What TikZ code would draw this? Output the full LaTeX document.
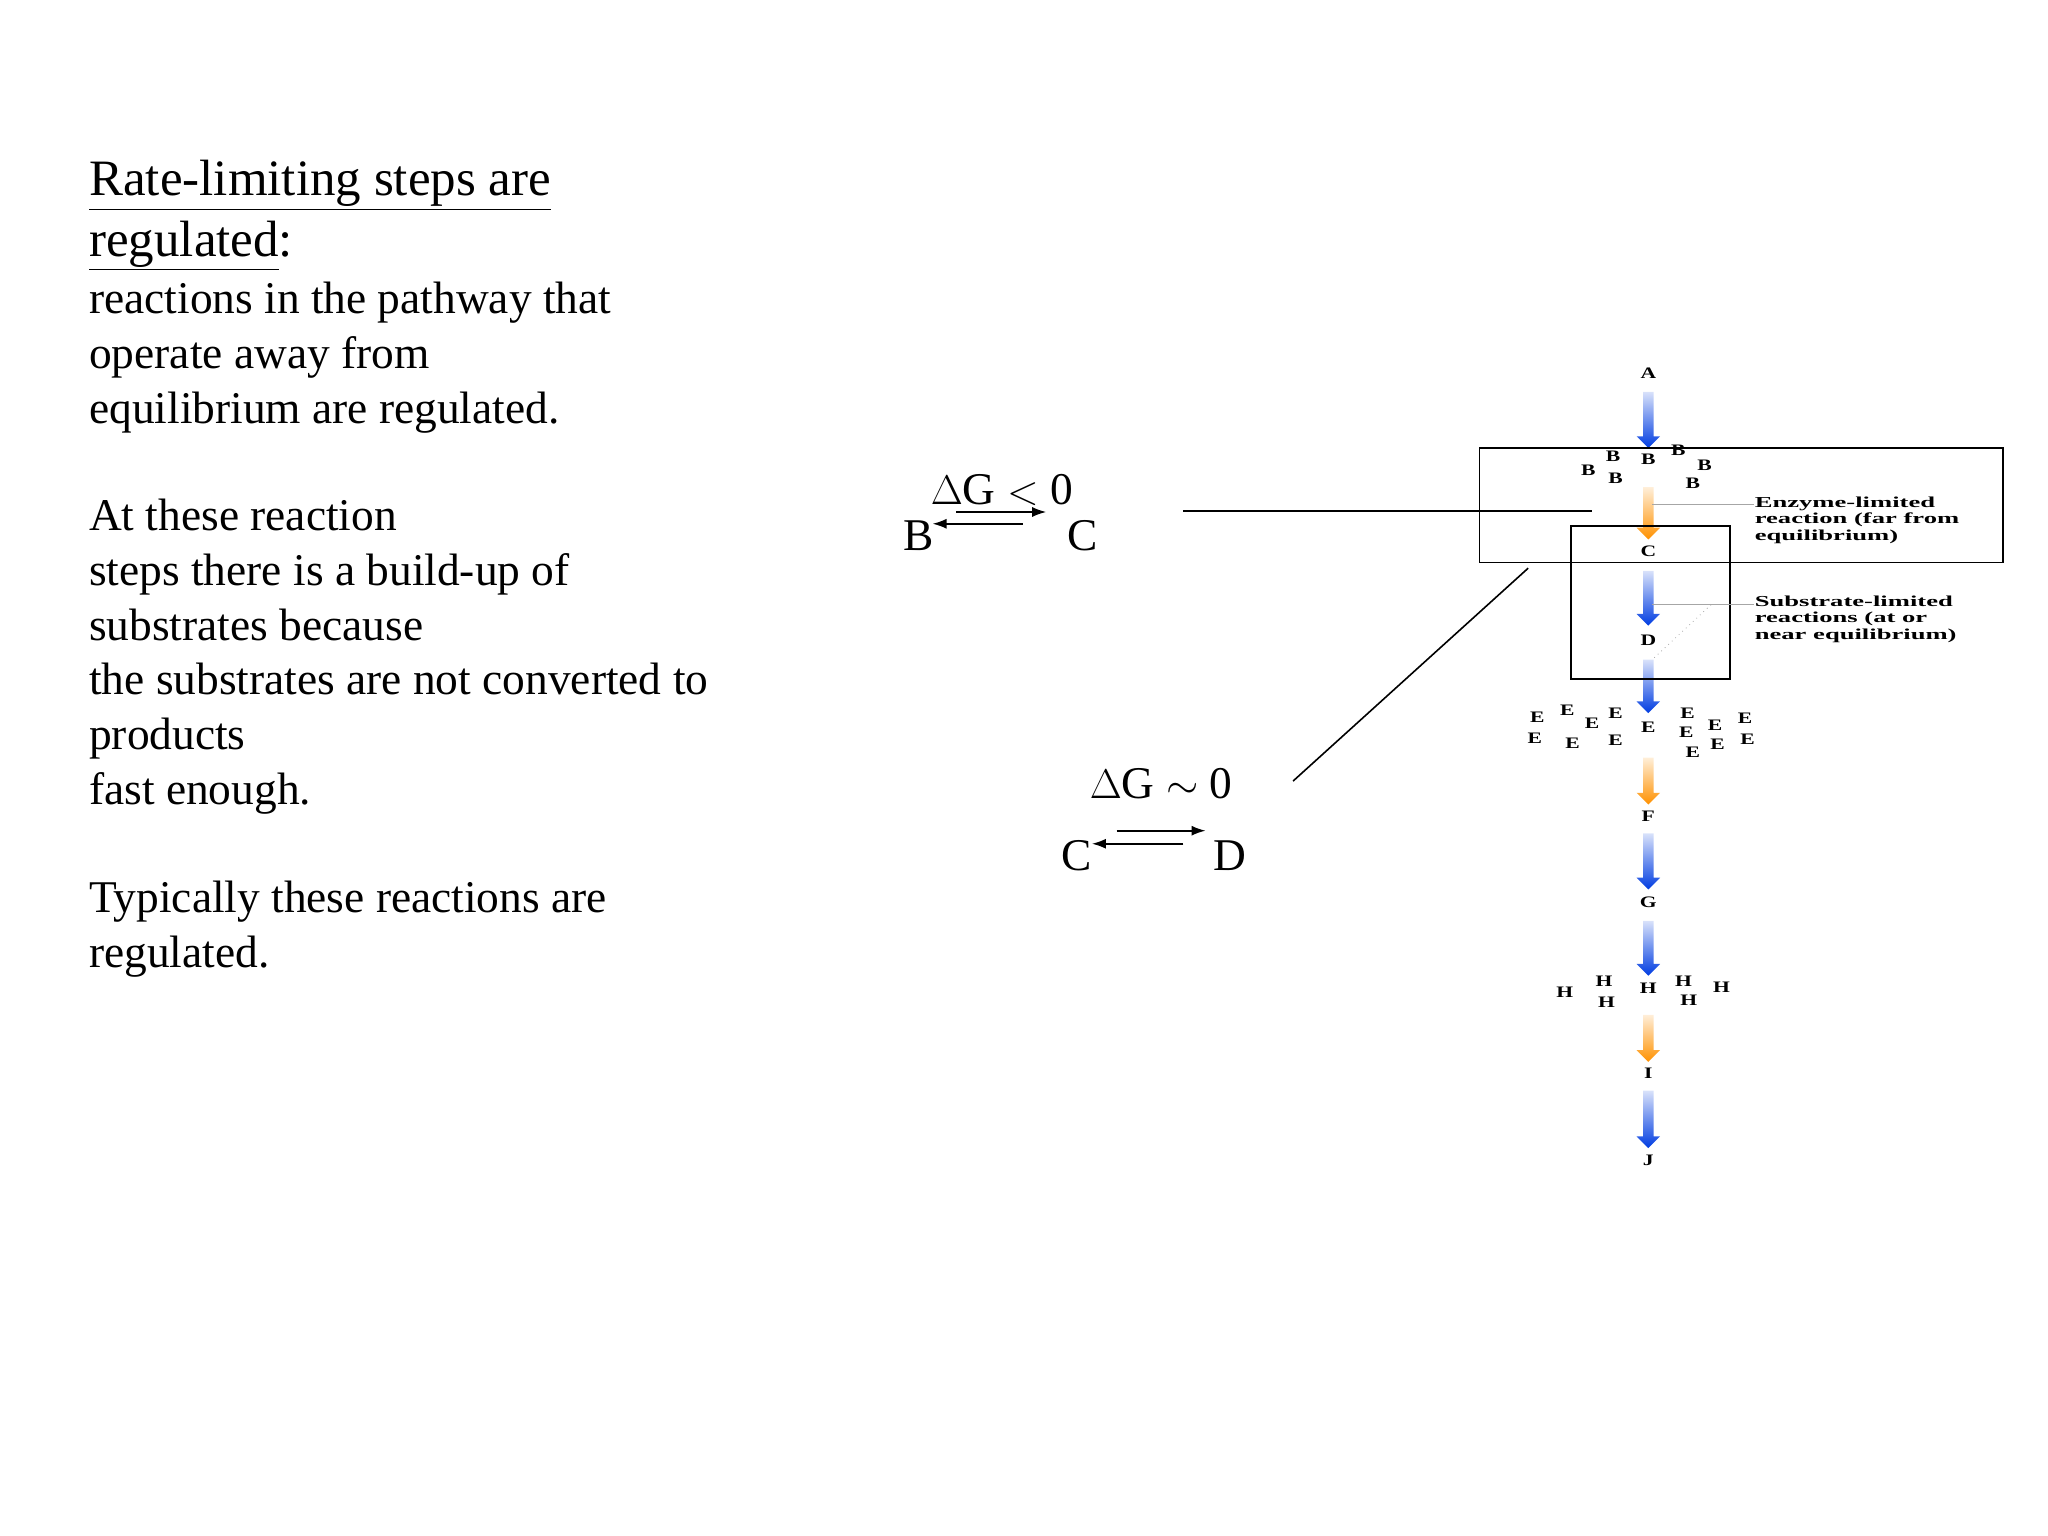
\documentclass[tikz,border=0pt]{standalone}
\usepackage{fontspec}
\setmainfont{Liberation Serif}
\usetikzlibrary{arrows.meta}
\begin{document}
\begin{tikzpicture}[x=0.653pt,y=-0.653pt,
  body/.style={anchor=base west,inner sep=0pt,font=\fontsize{22.7}{26}\selectfont},
  ttl/.style={anchor=base west,inner sep=0pt,font=\fontsize{25.5}{28}\selectfont},
  eq/.style={inner sep=0pt,font=\fontsize{22.7}{26}\selectfont},
  met/.style={inner sep=0pt,xscale=1.35,font=\fontsize{8}{9}\selectfont\bfseries},
  note/.style={anchor=north west,inner sep=0pt,align=left,xscale=1.75,font=\fontsize{7.6}{8.2}\selectfont\bfseries},
  box/.style={draw,line width=0.9pt},
  eqa/.style={-{Latex[length=7pt,width=5pt]},line width=0.8pt},
  lead/.style={draw=gray!70,line width=0.4pt}]
\useasboundingbox (0,0) rectangle (1568,1176);
% left text
\node[ttl] (t1) at (68,150) {\underline{Rate-limiting steps are}};
\node[ttl] (t2) at (68,196) {\underline{regulated}:};
\node[body] (t3) at (68,240) {reactions in the pathway that};
\node[body] (t4) at (68,282) {operate away from};
\node[body] (t5) at (68,324) {equilibrium are regulated.};
\node[body] (t6) at (68,406) {At these reaction};
\node[body] (t7) at (68,448) {steps there is a build-up of};
\node[body] (t8) at (68,490) {substrates because};
\node[body] (t9) at (68,532) {the substrates are not converted to};
\node[body] (t10) at (68,574) {products};
\node[body] (t11) at (68,616) {fast enough.};
\node[body] (t12) at (68,699) {Typically these reactions are};
\node[body] (t13) at (68,741) {regulated.};
% equations
\node[eq] (dg1) at (767,375) {$\Delta$G $<$ 0};
\node[eq] (eb) at (703,410) {B};
\node[eq] (ec) at (829,410) {C};
\coordinate (u1a) at (732,392); \coordinate (u1b) at (801,392);
\coordinate (l1a) at (783,401); \coordinate (l1b) at (714,401);
\draw[eqa] (u1a) -- (u1b);
\draw[eqa] (l1a) -- (l1b);
\node[eq] (dg2) at (889,600) {$\Delta$G $\sim$ 0};
\node[eq] (ec2) at (824,655) {C};
\node[eq] (ed2) at (942,655) {D};
\coordinate (u2a) at (855,636); \coordinate (u2b) at (923,636);
\coordinate (l2a) at (906,646); \coordinate (l2b) at (836,646);
\draw[eqa] (u2a) -- (u2b);
\draw[eqa] (l2a) -- (l2b);
% pathway
\newcommand\garr[3]{\shade[top color=#3!15,bottom color=#3]
  (1258,#1)--(1266,#1)--(1266,#2-9)--(1271,#2-9)--(1262,#2)--(1253,#2-9)--(1258,#2-9)--cycle;}
\definecolor{pblue}{RGB}{0,60,225}
\definecolor{porange}{RGB}{255,145,0}
\garr{300}{343}{pblue}
\garr{373}{413}{porange}
\garr{437}{479}{pblue}
\garr{505}{546}{pblue}
\garr{580}{616}{porange}
\garr{638}{681}{pblue}
\garr{705}{747}{pblue}
\garr{777}{813}{porange}
\garr{835}{879}{pblue}
\node[met] (A) at (1262,286) {A};
\node[met] (B) at (1262,352) {B};
\node[met] (C) at (1262,422) {C};
\node[met] (D) at (1262,490) {D};
\node[met] (E) at (1262,557) {E};
\node[met] (F) at (1262,625) {F};
\node[met] (G) at (1262,691) {G};
\node[met] (H) at (1262,757) {H};
\node[met] (I) at (1262,822) {I};
\node[met] (J) at (1262,888) {J};
\foreach \p in {(1216,360),(1235,349),(1237,366),(1285,345),(1305,356),(1296,370)}
  \node[met] at \p {B};
\foreach \p in {(1177,549),(1200,544),(1219,554),(1237,546),(1292,546),(1291,561),(1313,555),(1336,550),(1175,565),(1204,569),(1237,567),(1296,576),(1315,570),(1338,566)}
  \node[met] at \p {E};
\foreach \p in {(1198,760),(1228,751),(1230,767),(1289,751),(1293,766),(1318,756)}
  \node[met] at \p {H};
% boxes
\node[box,minimum width=401*0.653pt,minimum height=88*0.653pt,anchor=north west,inner sep=0pt] (big) at (1132,342) {};
\node[box,minimum width=122*0.653pt,minimum height=117*0.653pt,anchor=north west,inner sep=0pt] (small) at (1202,402) {};
\coordinate (h1) at (906,391); \coordinate (h2) at (1219,391);
\draw[line width=0.8pt] (h1) -- (h2);
\coordinate (d1) at (990,598); \coordinate (d2) at (1170,435);
\draw[line width=0.8pt] (d1) -- (d2);
% notes
\node[note] (n1) at (1343,380) {Enzyme-limited\\reaction (far from\\equilibrium)};
\node[note] (n2) at (1343,456) {Substrate-limited\\reactions (at or\\near equilibrium)};
\coordinate (g1) at (1265,386);
\coordinate (g2) at (1265,463);
\coordinate (g3) at (1310,463); \coordinate (g4) at (1265,505);
\draw[lead] (g1) -- (n1.west|-g1);
\draw[lead] (g2) -- (n2.west|-g2);
\draw[lead,dotted] (g3) -- (g4);
\end{tikzpicture}
\end{document}
